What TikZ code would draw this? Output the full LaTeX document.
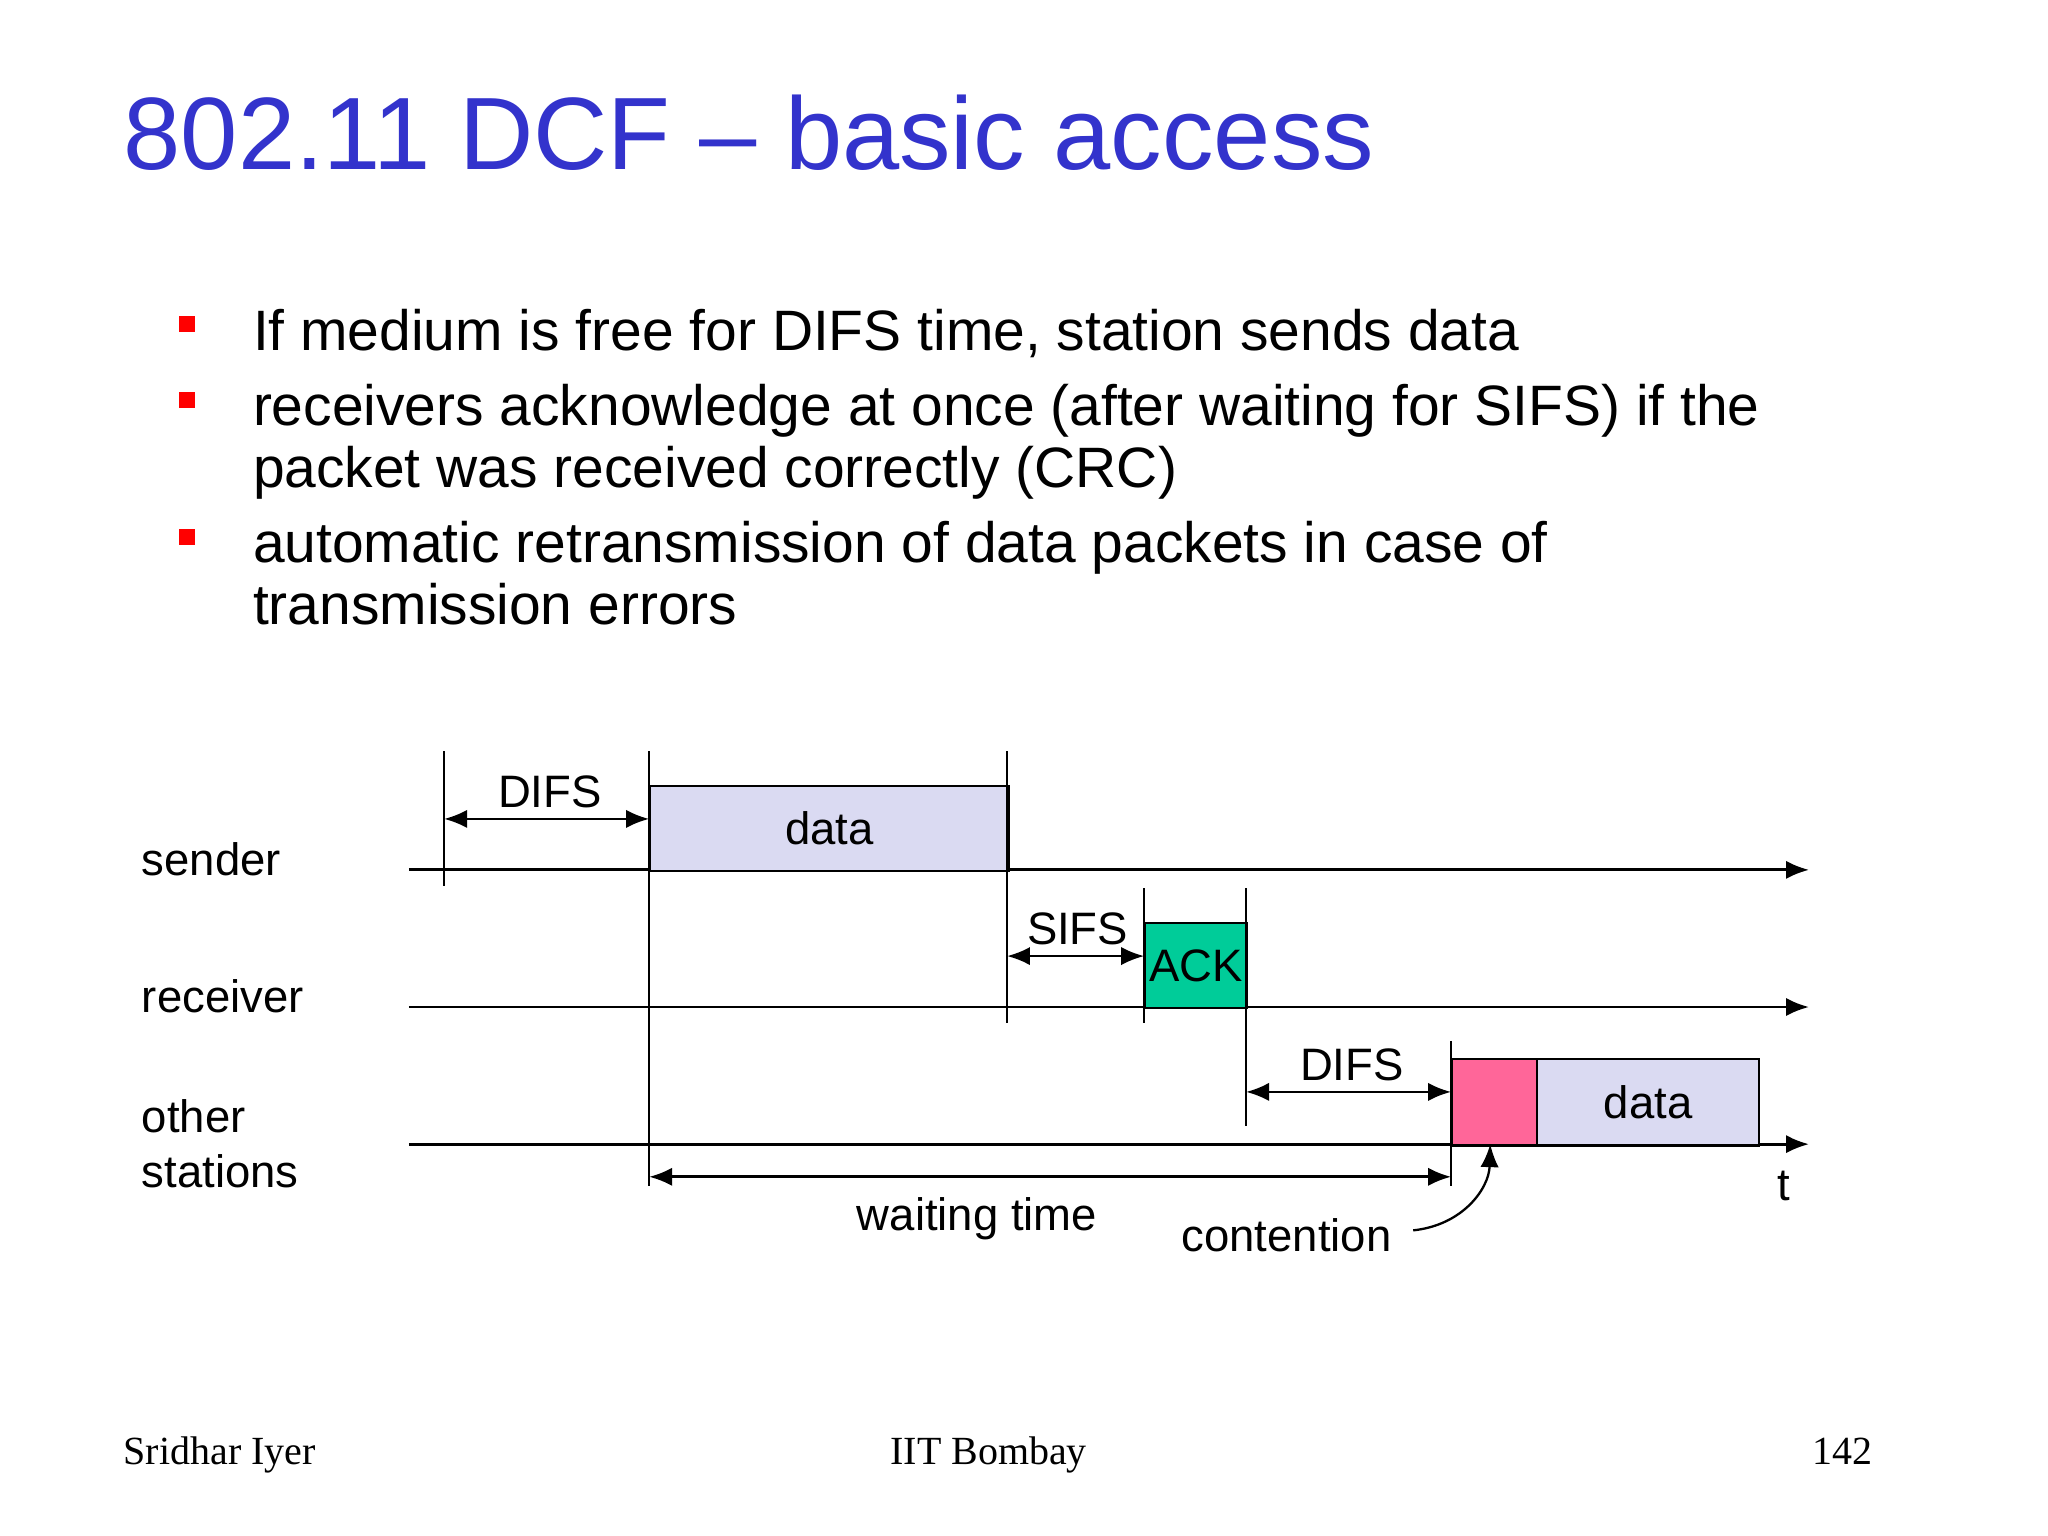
\documentclass[tikz,border=0pt]{standalone}
\usepackage{fontspec}
\setmainfont{Liberation Sans}
\newfontfamily\footfont{Liberation Serif}
\usetikzlibrary{arrows.meta}
\definecolor{ttl}{RGB}{51,51,204}
\definecolor{lav}{RGB}{218,218,242}
\definecolor{ackg}{RGB}{0,204,153}
\definecolor{pnk}{RGB}{255,102,153}
\begin{document}
\begin{tikzpicture}[x=0.01cm,y=-0.01cm,
  lbl/.style={font=\fontsize{9.9}{12}\selectfont,inner sep=0pt},
  bul/.style={font=\fontsize{12.4}{15}\selectfont,inner sep=0pt,anchor=base west},
  box/.style={draw=black,line width=0.5pt,inner sep=0pt,anchor=north west,font=\fontsize{9.9}{12}\selectfont},
  ax/.style={line width=0.6pt,-{Latex[length=5pt,width=4pt]}},
  dim/.style={line width=0.6pt,{Latex[length=5pt,width=4pt]}-{Latex[length=5pt,width=4pt]}},
  tick/.style={line width=0.5pt},
  foot/.style={inner sep=0pt,font=\footfont\fontsize{8.7}{10}\selectfont}]
\useasboundingbox (0,0) rectangle (1568,1176);
\fill[white] (0,0) rectangle (1568,1176);
\node[anchor=base west,inner sep=0pt,text=ttl,font=\fontsize{22.4}{26}\selectfont] (title) at (94,130) {802.11 DCF – basic access};
\foreach \y in {248,306,411}{\fill[red] (137,\y-6) rectangle (149,\y+6);}
\node[bul] (t1) at (193,268) {If medium is free for DIFS time, station sends data};
\node[bul] (t2) at (193,326) {receivers acknowledge at once (after waiting for SIFS) if the};
\node[bul] (t2b) at (193,373) {packet was received correctly (CRC)};
\node[bul] (t3) at (193,431) {automatic retransmission of data packets in case of};
\node[bul] (t3b) at (193,478) {transmission errors};
% lines
\coordinate (s0) at (313,666); \coordinate (s1) at (1385,666);
\coordinate (r0) at (313,771); \coordinate (r1) at (1385,771);
\coordinate (o0) at (313,876); \coordinate (o1) at (1385,876);
\draw[ax] (s0) -- (s1); \draw[ax] (r0) -- (r1); \draw[ax] (o0) -- (o1);
% boxes
\node[box,fill=lav,minimum width=2.74cm,minimum height=0.65cm] (d1) at (497,601) {data};
\node[box,fill=ackg,minimum width=0.78cm,minimum height=0.65cm] (ack) at (876,706) {ACK};
\node[box,fill=pnk,minimum width=0.65cm,minimum height=0.66cm] (cw) at (1111,810) {};
\node[box,fill=lav,minimum width=1.70cm,minimum height=0.66cm] (d2) at (1176,810) {data};
% ticks
\draw[tick] (340,575) -- (340,678);
\draw[tick] (497,575) -- (497,908);
\draw[tick] (771,575) -- (771,783);
\draw[tick] (876,680) -- (876,783);
\draw[tick] (954,680) -- (954,862);
\draw[tick] (1111,797) -- (1111,908);
% dims
\coordinate (a1) at (340,627); \coordinate (a2) at (497,627);
\draw[dim] (a1) -- (a2); \node[lbl] (l1) at (421,606) {DIFS};
\coordinate (b1) at (771,732); \coordinate (b2) at (876,732);
\draw[dim] (b1) -- (b2); \node[lbl] (l2) at (825,711) {SIFS};
\coordinate (c1) at (954,836); \coordinate (c2) at (1111,836);
\draw[dim] (c1) -- (c2); \node[lbl] (l3) at (1035,815) {DIFS};
\coordinate (w1) at (497,901); \coordinate (w2) at (1111,901);
\draw[dim] (w1) -- (w2); \node[lbl] (l4) at (748,933) {waiting time};
\node[lbl] (l5) at (985,946) {contention};
\coordinate (ce) at (1141,876);
\draw[line width=0.5pt,-{Latex[length=5pt,width=4pt]}] (1082,942) .. controls (1120,938) and (1140,910) .. (ce);
\node[lbl] (tt) at (1366,908) {t};
\node[lbl,anchor=west] (n1) at (108,658) {sender};
\node[lbl,anchor=west] (n2) at (108,763) {receiver};
\node[lbl,anchor=west] (n3) at (108,855) {other};
\node[lbl,anchor=west] (n3b) at (108,897) {stations};
% footer
\node[foot,anchor=base west] (f1) at (94,1121) {Sridhar Iyer};
\node[foot,anchor=base] (f2) at (757,1121) {IIT Bombay};
\node[foot,anchor=base east] (f3) at (1434,1121) {142};
\end{tikzpicture}
\end{document}
